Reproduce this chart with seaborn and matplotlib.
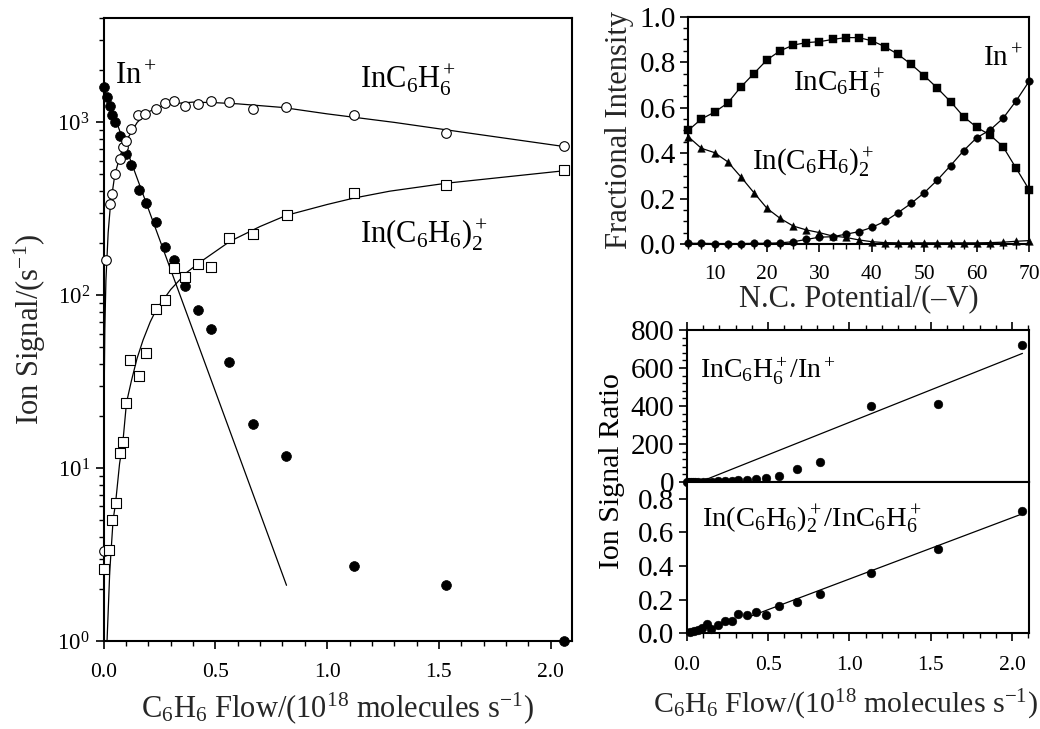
import seaborn as sns
import matplotlib.pyplot as plt
from matplotlib.ticker import MultipleLocator, FixedLocator, NullFormatter, LogLocator, LogFormatterSciNotation

# ---- left panel: ion signals vs C6H6 flow (log scale) ----
flow_in = [0.0, 0.015, 0.027, 0.039, 0.05, 0.071, 0.102, 0.121, 0.156, 0.188, 0.233,
           0.273, 0.315, 0.364, 0.42, 0.482, 0.561, 0.667, 0.815, 1.121, 1.531, 2.06]
sig_in = [1600, 1410, 1250, 1110, 1000, 830, 660, 570, 405, 340, 265,
          190, 160, 113, 82, 64, 41, 18, 11.7, 2.7, 2.1, 1.0]

flow_c6 = [0.0, 0.012, 0.027, 0.039, 0.05, 0.071, 0.085, 0.102, 0.121, 0.153, 0.186, 0.232,
           0.273, 0.315, 0.364, 0.42, 0.482, 0.561, 0.667, 0.815, 1.121, 1.531, 2.06]
sig_c6 = [3.3, 159, 336, 384, 500, 611, 720, 777, 911, 1097, 1117, 1200,
          1300, 1322, 1243, 1282, 1328, 1320, 1200, 1225, 1097, 864, 727]

flow_c12 = [0.003, 0.024, 0.039, 0.053, 0.071, 0.085, 0.102, 0.119, 0.156, 0.188, 0.233,
            0.273, 0.315, 0.364, 0.42, 0.482, 0.561, 0.667, 0.818, 1.121, 1.531, 2.06]
sig_c12 = [2.6, 3.36, 5.0, 6.25, 12.2, 14.2, 23.9, 42, 34.2, 46.6, 83,
           93.6, 143, 128, 152, 146, 213, 225, 290, 390, 432, 528]

# fitted curves
fit_in_x = [0.0, 0.818]
fit_in_y = [1600, 2.1]
fit_c6_x = [0.0001, 0.0005, 0.002, 0.005, 0.01, 0.02, 0.03, 0.05, 0.075, 0.1, 0.15, 0.2,
            0.25, 0.3, 0.4, 0.5, 0.6, 0.8, 1.0, 1.3, 1.6, 2.06]
fit_c6_y = [1.3, 6.5, 26, 63, 122, 230, 330, 500, 650, 780, 1000, 1150,
            1230, 1280, 1310, 1300, 1280, 1220, 1120, 1000, 880, 725]
fit_c12_x = [0.015, 0.027, 0.042, 0.053, 0.071, 0.086, 0.102, 0.124, 0.149, 0.176, 0.208, 0.236,
             0.3, 0.37, 0.43, 0.565, 0.7, 0.818, 1.0, 1.12, 1.28, 1.535, 2.06]
fit_c12_y = [1.0, 2.5, 5.0, 6.25, 10.6, 14.2, 23.9, 32, 43, 55, 70, 83,
             108, 135, 155, 205, 250, 290, 335, 365, 400, 445, 525]

# ---- top right: fractional intensity vs N.C. potential ----
nc_pot = [5, 7.5, 10, 12.5, 15, 17.5, 20, 22.5, 25, 27.5, 30, 32.5, 35, 37.5, 40,
          42.5, 45, 47.5, 50, 52.5, 55, 57.5, 60, 62.5, 65, 67.5, 70]
frac_c6 = [0.50, 0.55, 0.58, 0.62, 0.69, 0.75, 0.81, 0.85, 0.875, 0.886, 0.89, 0.90, 0.908, 0.908,
           0.894, 0.868, 0.834, 0.79, 0.74, 0.685, 0.626, 0.56, 0.513, 0.48, 0.428, 0.333, 0.238]
frac_c12 = [0.472, 0.421, 0.402, 0.362, 0.296, 0.226, 0.157, 0.113, 0.079, 0.062, 0.05, 0.035, 0.029,
            0.018, 0.010, 0.006, 0.005, 0.005, 0.005, 0.005, 0.005, 0.005, 0.005, 0.006, 0.008, 0.012, 0.015]
frac_in = [0.003, 0.003, 0.002, 0.002, 0.002, 0.003, 0.003, 0.005, 0.01, 0.02, 0.03, 0.032, 0.043,
           0.054, 0.073, 0.10, 0.138, 0.179, 0.226, 0.282, 0.345, 0.411, 0.468, 0.501, 0.553, 0.63, 0.717]

# ---- bottom right: signal ratios ----
ratio1_x = [0.0, 0.015, 0.027, 0.039, 0.05, 0.072, 0.103, 0.122, 0.157, 0.19, 0.235,
            0.276, 0.317, 0.368, 0.426, 0.487, 0.567, 0.676, 0.819, 1.132, 1.541, 2.063]
ratio1 = [0, 0.1, 0.3, 0.35, 0.5, 0.7, 1.2, 1.6, 2.7, 3.3, 4.5,
          6.9, 8.2, 11, 16, 21, 33, 66, 104, 402, 408, 720]
ratio1_fit_x = [0.08, 2.063]
ratio1_fit_y = [0, 677]

ratio2_x = [0.02, 0.045, 0.072, 0.096, 0.123, 0.15, 0.19, 0.235, 0.276, 0.317, 0.368, 0.426,
            0.487, 0.567, 0.676, 0.819, 1.132, 1.541, 2.063]
ratio2 = [0.008, 0.014, 0.02, 0.03, 0.056, 0.027, 0.052, 0.073, 0.073, 0.113, 0.107, 0.124,
          0.109, 0.165, 0.189, 0.236, 0.357, 0.5, 0.727]
ratio2_fit_x = [0.37, 2.063]
ratio2_fit_y = [0.093, 0.711]

sns.set_theme(style="ticks")
plt.rcParams['font.family'] = ['Liberation Serif', 'DejaVu Serif']
plt.rcParams['mathtext.fontset'] = 'custom'
plt.rcParams['mathtext.rm'] = 'Liberation Serif'
plt.rcParams['mathtext.it'] = 'Liberation Serif:italic'
plt.rcParams['mathtext.bf'] = 'Liberation Serif:bold'
plt.rcParams['axes.linewidth'] = 1.5
plt.rcParams['axes.edgecolor'] = 'black'
plt.rcParams['text.color'] = 'black'
plt.rcParams['xtick.color'] = 'black'
plt.rcParams['ytick.color'] = 'black'

LBL = 22
YT = 21
XT = 15.5
lw = 0.9


def style_ticks(ax):
    ax.tick_params(which='major', direction='out', length=6, width=1.2)
    ax.tick_params(which='minor', direction='out', length=3.5, width=1.0)
    for s in ax.spines.values():
        s.set_visible(True)
        s.set_linewidth(1.5)


fig = plt.figure(figsize=(10.4, 7.29), dpi=100)

# left panel
ax = fig.add_axes([0.0997, 0.1207, 0.45, 0.8542])
ax.set_yscale('log')
sns.lineplot(x=fit_in_x, y=fit_in_y, ax=ax, color='black', lw=lw, sort=False, estimator=None)
sns.lineplot(x=fit_c6_x, y=fit_c6_y, ax=ax, color='black', lw=lw, sort=False, estimator=None)
sns.lineplot(x=fit_c12_x, y=fit_c12_y, ax=ax, color='black', lw=lw, sort=False, estimator=None)
sns.scatterplot(x=flow_in, y=sig_in, ax=ax, marker='o', s=50, color='black',
                edgecolor='black', linewidth=0.5, zorder=4, clip_on=False)
sns.scatterplot(x=flow_c6, y=sig_c6, ax=ax, marker='o', s=48, facecolor='white',
                edgecolor='black', linewidth=0.8, zorder=4, clip_on=False)
sns.scatterplot(x=flow_c12, y=sig_c12, ax=ax, marker='s', s=44, facecolor='white',
                edgecolor='black', linewidth=0.8, zorder=4, clip_on=False)
ax.set_xlim(0, 2.094)
ax.set_ylim(1, 4000)
ax.xaxis.set_major_locator(MultipleLocator(0.5))
ax.xaxis.set_minor_locator(MultipleLocator(0.1))
ax.xaxis.set_major_formatter(plt.FormatStrFormatter('%.1f'))
ax.yaxis.set_major_locator(LogLocator(base=10, numticks=10))
ax.yaxis.set_major_formatter(LogFormatterSciNotation())
ax.yaxis.set_minor_locator(LogLocator(base=10, subs=[2, 3, 4, 5, 6, 7, 8, 9], numticks=20))
ax.yaxis.set_minor_formatter(NullFormatter())
style_ticks(ax)
ax.tick_params(axis='x', labelsize=XT, pad=10)
ax.tick_params(axis='y', labelsize=16.5, pad=4)
ax.set_xlabel('C$_6$H$_6$ Flow/(10$^{18}$ molecules s$^{-1}$)', fontsize=LBL, labelpad=6)
ax.set_ylabel('Ion Signal/(s$^{-1}$)', fontsize=LBL)
ax.yaxis.set_label_coords(-0.118, 0.5)
ax.text(0.05, 1675, 'In$^+$', fontsize=22)
ax.text(1.148, 1573, 'InC$_6$H$_6^+$', fontsize=22)
ax.text(1.148, 199, 'In(C$_6$H$_6$)$_2^+$', fontsize=22)

# top right panel
ax2 = fig.add_axes([0.6618, 0.6653, 0.3279, 0.3118])
for vals, mk in [(frac_c6, 's'), (frac_c12, '^'), (frac_in, 'o')]:
    sns.lineplot(x=nc_pot, y=vals, ax=ax2, color='black', lw=lw, sort=False, estimator=None)
    sns.scatterplot(x=nc_pot, y=vals, ax=ax2, marker=mk, s=30, color='black',
                    edgecolor='black', linewidth=0.3, zorder=4, clip_on=False)
ax2.set_xlim(5, 70)
ax2.set_ylim(0, 1.0)
ax2.xaxis.set_major_locator(FixedLocator([10, 20, 30, 40, 50, 60, 70]))
ax2.xaxis.set_minor_locator(MultipleLocator(2.5))
ax2.yaxis.set_major_locator(MultipleLocator(0.2))
ax2.yaxis.set_minor_locator(MultipleLocator(0.05))
ax2.yaxis.set_major_formatter(plt.FormatStrFormatter('%.1f'))
style_ticks(ax2)
ax2.tick_params(axis='x', labelsize=XT, pad=9)
ax2.tick_params(axis='y', labelsize=YT, pad=3)
ax2.set_xlabel('N.C. Potential/(\u2013V)', fontsize=LBL, labelpad=0)
ax2.set_ylabel('Fractional Intensity', fontsize=LBL, labelpad=4)
ax2.text(25, 0.67, 'InC$_6$H$_6^+$', fontsize=21)
ax2.text(17.1, 0.326, 'In(C$_6$H$_6$)$_2^+$', fontsize=21)
ax2.text(61.2, 0.78, 'In$^+$', fontsize=21)

# bottom right: two stacked panels
ax3 = fig.add_axes([0.6603, 0.3388, 0.3294, 0.2085])
ax4 = fig.add_axes([0.6603, 0.1313, 0.3294, 0.2075], sharex=ax3)

sns.lineplot(x=ratio1_fit_x, y=ratio1_fit_y, ax=ax3, color='black', lw=lw, sort=False, estimator=None)
sns.scatterplot(x=ratio1_x, y=ratio1, ax=ax3, marker='o', s=40, color='black',
                edgecolor='black', linewidth=0.3, zorder=4, clip_on=False)
ax3.set_ylim(0, 800)
ax3.yaxis.set_major_locator(MultipleLocator(200))
ax3.yaxis.set_minor_locator(MultipleLocator(40))
style_ticks(ax3)
ax3.xaxis.tick_top()
ax3.tick_params(axis='x', which='both', labeltop=False, labelbottom=False)
ax3.tick_params(axis='y', labelsize=YT, pad=3)
ax3.text(0.082, 546, 'InC$_6$H$_6^+$/In$^+$', fontsize=20)

sns.lineplot(x=ratio2_fit_x, y=ratio2_fit_y, ax=ax4, color='black', lw=lw, sort=False, estimator=None)
sns.scatterplot(x=ratio2_x, y=ratio2, ax=ax4, marker='o', s=40, color='black',
                edgecolor='black', linewidth=0.3, zorder=4, clip_on=False)
ax4.set_xlim(0, 2.105)
ax4.set_ylim(0, 0.9)
ax4.xaxis.set_major_locator(MultipleLocator(0.5))
ax4.xaxis.set_minor_locator(MultipleLocator(0.1))
ax4.xaxis.set_major_formatter(plt.FormatStrFormatter('%.1f'))
ax4.yaxis.set_major_locator(FixedLocator([0.0, 0.2, 0.4, 0.6, 0.8]))
ax4.yaxis.set_major_formatter(plt.FormatStrFormatter('%.1f'))
style_ticks(ax4)
ax4.tick_params(axis='x', labelsize=XT, pad=10)
ax4.tick_params(axis='y', labelsize=YT, pad=3)
ax4.set_xlabel('C$_6$H$_6$ Flow/(10$^{18}$ molecules s$^{-1}$)', fontsize=21.5)
ax4.xaxis.set_label_coords((845 - 686.7) / 342.6, -0.36)
ax4.text(0.092, 0.632, 'In(C$_6$H$_6$)$_2^+$/InC$_6$H$_6^+$', fontsize=20.5)
fig.text(0.588, 0.354, 'Ion Signal Ratio', fontsize=21.5, rotation=90, ha='center', va='center')

for a in [ax, ax2, ax3, ax4]:
    a.set_facecolor('white')

fig.savefig('out.png', dpi=100, facecolor='white')
